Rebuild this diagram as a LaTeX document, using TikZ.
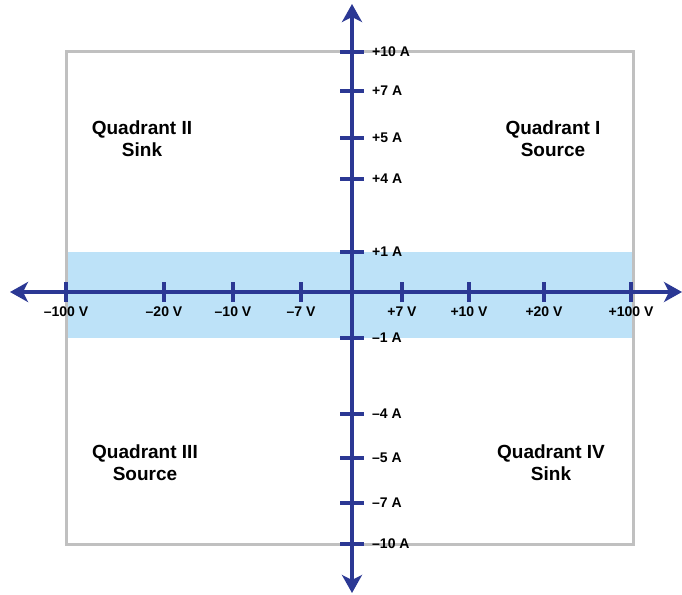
\documentclass[tikz,border=0pt]{standalone}
\usepackage{fontspec}
\setmainfont{Liberation Sans}
\usetikzlibrary{arrows.meta}
\definecolor{axisblue}{RGB}{43,56,148}
\definecolor{bandblue}{RGB}{189,226,248}
\definecolor{framegray}{RGB}{192,192,192}
\tikzset{
	axisline/.style={draw=axisblue, line width=3.5pt,
		{Stealth[length=18pt,width=20pt,inset=5pt]}-{Stealth[length=18pt,width=20pt,inset=5pt]}},
	axistick/.style={draw=axisblue, line width=3.5pt},
	ticklabel/.style={font=\bfseries\fontsize{14}{16}\selectfont, inner sep=0pt},
	quadlabel/.style={font=\bfseries\fontsize{19}{22}\selectfont, align=center, inner sep=0pt}
}

\begin{document}
\begin{tikzpicture}[x=1pt,y=-1pt]
	\useasboundingbox (0,0) rectangle (682,594);
	% shaded band and frame
	\fill[bandblue] (66,252) rectangle (633,338);
	\draw[framegray, line width=3pt] (66,52) rectangle (633,544);
	% axes
	\coordinate (west) at (10,292);
	\coordinate (east) at (682,292);
	\coordinate (north) at (352,4);
	\coordinate (south) at (352,593);
	\draw[axisline] (west) -- (east);
	\draw[axisline] (south) -- (north);
	% voltage ticks
	\foreach \x/\lab [count=\i] in {66/--100 V, 164/--20 V, 233/--10 V, 301/--7 V,
		402/+7 V, 469/+10 V, 544/+20 V, 631/+100 V}
	{
		\coordinate (vt\i) at (\x,282);
		\coordinate (vb\i) at (\x,302);
		\draw[axistick] (vt\i) -- (vb\i);
		\node[ticklabel] (v\i) at (\x,312) {\lab};
	}
	% current ticks
	\foreach \y/\lab [count=\i] in {52/+10 A, 91/+7 A, 138/+5 A, 179/+4 A, 252/+1 A,
		338/--1 A, 414/--4 A, 458/--5 A, 503/--7 A, 544/--10 A}
	{
		\coordinate (al\i) at (340,\y);
		\coordinate (ar\i) at (364,\y);
		\draw[axistick] (al\i) -- (ar\i);
		\node[ticklabel, anchor=west] (a\i) at (372,\y) {\lab};
	}
	% quadrants
	\node[quadlabel] (q2) at (142,139) {Quadrant II\\Sink};
	\node[quadlabel] (q1) at (553,139) {Quadrant I\\Source};
	\node[quadlabel] (q3) at (145,463) {Quadrant III\\Source};
	\node[quadlabel] (q4) at (551,463) {Quadrant IV\\Sink};
\end{tikzpicture}
\end{document}
